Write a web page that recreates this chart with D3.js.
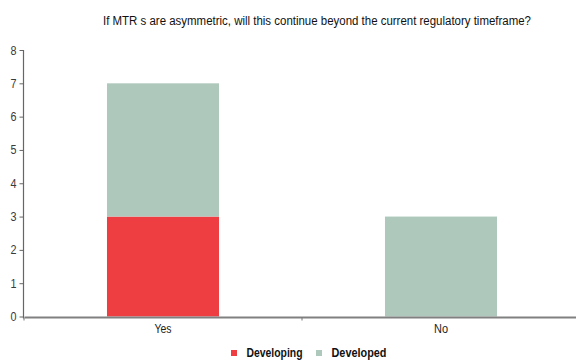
<!DOCTYPE html>
<html>
<head>
<meta charset="utf-8">
<script src="https://cdn.jsdelivr.net/npm/d3@7"></script>
<style>
  html, body { margin: 0; padding: 0; background: #fff; }
  svg { display: block; font-family: "Liberation Sans", Arial, sans-serif; }
</style>
</head>
<body>
<svg id="chart" width="576" height="361"></svg>
<script>
// Answer categories and survey counts per group
const categories = ["Yes", "No"];
const developing = [3, 0];
const developed = [4, 3];
const seriesNames = ["Developing", "Developed"];
const seriesColors = ["#ef3e42", "#aec8bc"];
const yTicks = [0, 1, 2, 3, 4, 5, 6, 7, 8];
const title = "If MTR s are asymmetric, will this continue beyond the current regulatory timeframe?";

const svg = d3.select("#chart");
const plotLeft = 24, plotRight = 580, plotTop = 50, plotBottom = 316.5;

const x = d3.scaleBand().domain(categories).range([plotLeft, plotRight]).paddingInner(0).paddingOuter(0);
const y = d3.scaleLinear().domain([0, 8]).range([plotBottom, plotTop]);

const rows = categories.map((c, i) => ({ cat: c, Developing: developing[i], Developed: developed[i] }));
const stacked = d3.stack().keys(seriesNames)(rows);

// Title (condensed to the narrow face width)
svg.append("text")
  .attr("x", 103).attr("y", 24.5)
  .attr("font-size", 12)
  .attr("fill", "#111")
  .attr("textLength", 428)
  .attr("lengthAdjust", "spacingAndGlyphs")
  .text(title);

// Bars
const barW = x.bandwidth() * 0.403;
stacked.forEach((layer, si) => {
  svg.append("g").selectAll("rect")
    .data(layer)
    .join("rect")
    .attr("x", d => x(d.data.cat) + x.bandwidth() / 2 - barW / 2)
    .attr("y", d => y(d[1]))
    .attr("width", barW)
    .attr("height", d => y(d[0]) - y(d[1]))
    .attr("fill", seriesColors[si]);
});

// Y axis
const yAxis = svg.append("g")
  .attr("transform", `translate(${plotLeft - 0.5},0)`)
  .call(d3.axisLeft(y).tickValues(yTicks).tickSize(4).tickSizeOuter(0).tickPadding(3).tickFormat(d3.format("d")));
yAxis.select(".domain").attr("stroke", "#666").attr("stroke-width", 1.2)
  .attr("d", `M0,${plotTop}V${plotBottom + 2}`);
yAxis.selectAll(".tick line").attr("stroke", "#666");
yAxis.selectAll(".tick text").attr("font-size", 12.5).attr("fill", "#3a3a3a")
  .attr("textLength", 6).attr("lengthAdjust", "spacingAndGlyphs");

// X axis
const xAxis = svg.append("g")
  .attr("transform", `translate(0,${plotBottom + 0.5})`)
  .call(d3.axisBottom(x).tickSize(0).tickPadding(7));
xAxis.select(".domain").attr("stroke", "#808080").attr("stroke-width", 2);
xAxis.selectAll(".tick text").attr("font-size", 12).attr("fill", "#222")
  .attr("textLength", d => d === "Yes" ? 17 : 14)
  .attr("lengthAdjust", "spacingAndGlyphs");
// Tick marks at band edges
svg.append("g").selectAll("line")
  .data(categories)
  .join("line")
  .attr("x1", d => x(d)).attr("x2", d => x(d))
  .attr("y1", plotBottom + 1).attr("y2", plotBottom + 4)
  .attr("stroke", "#777").attr("stroke-width", 1);

// Legend
const legend = svg.append("g").attr("transform", "translate(0,357)");
const legendX = [231, 316];
const legendLen = [56, 55];
seriesNames.forEach((name, i) => {
  legend.append("rect")
    .attr("x", legendX[i]).attr("y", -7)
    .attr("width", 6).attr("height", 6)
    .attr("fill", seriesColors[i]);
  legend.append("text")
    .attr("x", legendX[i] + 15.5).attr("y", 0)
    .attr("font-size", 12.5)
    .attr("font-weight", "bold")
    .attr("fill", "#111")
    .attr("textLength", legendLen[i])
    .attr("lengthAdjust", "spacingAndGlyphs")
    .text(name);
});
</script>
</body>
</html>
